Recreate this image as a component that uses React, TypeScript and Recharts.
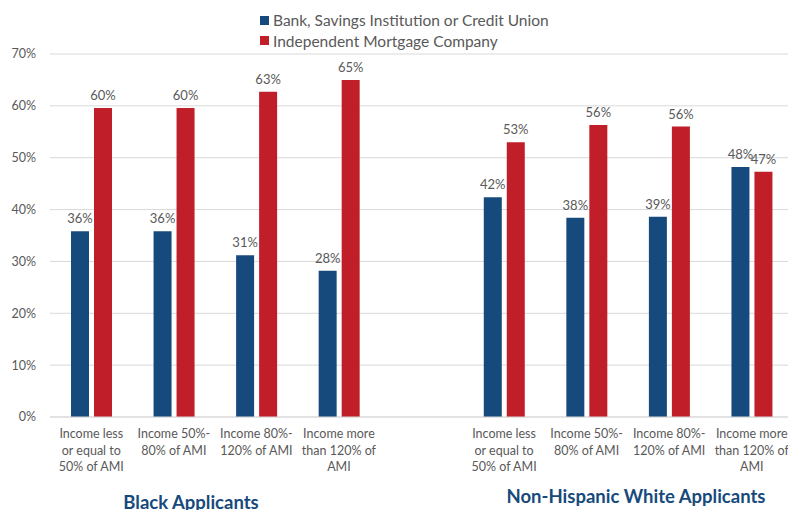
import React from "react";
import { BarChart, Bar, XAxis, YAxis, CartesianGrid, LabelList } from "recharts";

const categories = [
  "Income less\nor equal to\n50% of AMI",
  "Income 50%-\n80% of AMI",
  "Income 80%-\n120% of AMI",
  "Income more\nthan 120% of\nAMI",
  "",
  "Income less\nor equal to\n50% of AMI",
  "Income 50%-\n80% of AMI",
  "Income 80%-\n120% of AMI",
  "Income more\nthan 120% of\nAMI",
];
const bankValues: (number | null)[] = [35.8, 35.8, 31.2, 28.2, null, 42.4, 38.4, 38.6, 48.2];
const imcValues: (number | null)[] = [59.6, 59.6, 62.7, 65.0, null, 53.0, 56.3, 56.0, 47.3];
const seriesNames = ["Bank, Savings Institution or Credit Union", "Independent Mortgage Company"];
const groupLabels = ["Black Applicants", "Non-Hispanic White Applicants"];
const yTicks = [0, 10, 20, 30, 40, 50, 60, 70];

const BLUE = "#174A7C";
const RED = "#C01F2A";
const GRAY = "#595959";
const FONT = "Lato, 'Open Sans', sans-serif";

const data = categories.map((name, i) => ({
  name,
  bank: bankValues[i],
  imc: imcValues[i],
}));

const MultiLineTick = (props: any) => {
  const { x, y, payload } = props;
  const lines = String(payload.value).split("\n").filter((l) => l.length > 0);
  return (
    <text x={x} y={y} textAnchor="middle" fill={GRAY} fontSize={12.5} fontFamily={FONT}>
      {lines.map((l, i) => (
        <tspan key={i} x={x} dy={i === 0 ? 13 : 16.5}>
          {l}
        </tspan>
      ))}
    </text>
  );
};

const fmt = (v: any) => (v == null ? "" : `${Math.round(Number(v))}%`);

export default function App() {
  return (
    <div
      style={{
        position: "absolute",
        left: 0,
        top: 0,
        width: 788,
        height: 510,
        overflow: "hidden",
        background: "#fff",
        fontFamily: FONT,
      }}
    >
      <BarChart
        width={793}
        height={510}
        data={data}
        margin={{ top: 54, right: 0, left: 0, bottom: 0 }}
        barGap={5}
        barSize={18}
      >
        <CartesianGrid vertical={false} stroke="#d9d9d9" />
        <XAxis
          dataKey="name"
          interval={0}
          tickLine={false}
          axisLine={{ stroke: "#d9d9d9" }}
          height={93}
          tick={<MultiLineTick />}
        />
        <YAxis
          width={50}
          domain={[0, 70]}
          ticks={yTicks}
          tickFormatter={(v) => `${v}%`}
          axisLine={false}
          tickLine={false}
          tickMargin={8}
          tick={{ fill: GRAY, fontSize: 12.5, fontFamily: FONT }}
        />
        <Bar dataKey="bank" name={seriesNames[0]} fill={BLUE} isAnimationActive={false}>
          <LabelList dataKey="bank" position="top" offset={8} formatter={fmt} fill={GRAY} fontSize={13} fontFamily={FONT} />
        </Bar>
        <Bar dataKey="imc" name={seriesNames[1]} fill={RED} isAnimationActive={false}>
          <LabelList dataKey="imc" position="top" offset={8} formatter={fmt} fill={GRAY} fontSize={13} fontFamily={FONT} />
        </Bar>
      </BarChart>

      <div style={{ position: "absolute", left: 260, top: 10, color: GRAY }}>
        {seriesNames.map((n, i) => (
          <div key={n} style={{ display: "flex", alignItems: "center", height: 20.5, whiteSpace: "nowrap" }}>
            <span style={{ width: 9, height: 9, background: i === 0 ? BLUE : RED, display: "inline-block", marginRight: 4 }} />
            <span style={{ fontFamily: FONT, fontSize: 15.5 }}>{n}</span>
          </div>
        ))}
      </div>

      <div
        style={{
          position: "absolute",
          left: 191,
          top: 491,
          transform: "translateX(-50%)",
          color: BLUE,
          fontWeight: 700,
          fontSize: 18.5,
          whiteSpace: "nowrap",
        }}
      >
        {groupLabels[0]}
      </div>
      <div
        style={{
          position: "absolute",
          left: 636,
          top: 485,
          transform: "translateX(-50%)",
          color: BLUE,
          fontWeight: 700,
          fontSize: 18.5,
          whiteSpace: "nowrap",
        }}
      >
        {groupLabels[1]}
      </div>
    </div>
  );
}
